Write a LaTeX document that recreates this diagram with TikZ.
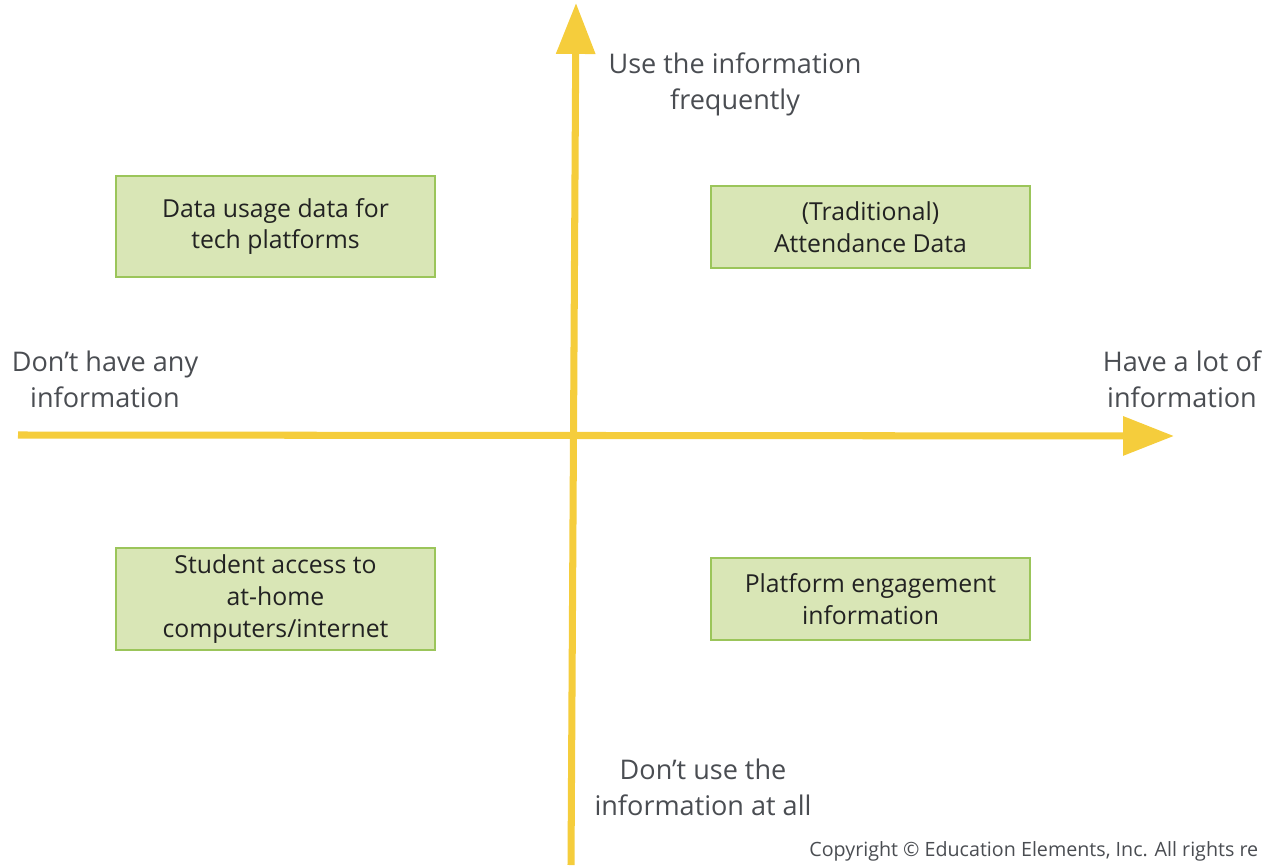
\documentclass[tikz,border=0pt]{standalone}
\usepackage{fontspec}
\setmainfont{Open Sans}
\usetikzlibrary{positioning,arrows.meta}
\definecolor{axisyellow}{HTML}{F5CD3C}
\definecolor{boxfill}{HTML}{D9E6B6}
\definecolor{boxline}{HTML}{9BC55A}
\definecolor{labelgrey}{HTML}{4A4D52}
\definecolor{boxtext}{HTML}{222222}

\tikzset{
  quadbox/.style={draw=boxline,fill=boxfill,line width=1.2pt,text=boxtext,
    font=\fontsize{14.1}{18}\selectfont,align=center,inner sep=0pt},
  axislabel/.style={text=labelgrey,font=\fontsize{15.4}{20.4}\selectfont,align=center},
  axisline/.style={axisyellow,line width=4pt,
    -{Triangle[length=29pt,width=21.5pt]}},
}

\begin{document}
\begin{tikzpicture}[x=0.02cm,y=-0.02cm]
    % page frame
    \useasboundingbox (0,0) rectangle (1270,865);

    % axis end points
    \coordinate (xstart) at (18,435);
    \coordinate (xend) at (1174,436);
    \coordinate (ystart) at (571,865);
    \coordinate (yend) at (576,3);

    % the two axes
    \draw[axisline] (xstart) -- (xend);
    \draw[axisline] (ystart) -- (yend);

    % axis captions
    \node[axislabel] (toplabel) at (735,84) {Use the information\\frequently};
    \node[axislabel] (bottomlabel) at (703,787) {Don’t use the\\information at all};
    \node[axislabel] (leftlabel) at (105,379) {Don’t have any\\information};
    \node[axislabel] (rightlabel) at (1182,379) {Have a lot of\\information};

    % quadrant boxes
    \node[quadbox,minimum width=319*0.02cm,minimum height=101*0.02cm] (usage) at (275.5,226.5)
      {Data usage data for\\tech platforms};
    \node[quadbox,minimum width=319*0.02cm,minimum height=82*0.02cm] (attendance) at (870.5,227)
      {(Traditional)\\Attendance Data};
    \node[quadbox,minimum width=319*0.02cm,minimum height=102*0.02cm] (access) at (275.5,599)
      {Student access to\\at-home\\computers/internet};
    \node[quadbox,minimum width=319*0.02cm,minimum height=82*0.02cm] (engagement) at (870.5,599)
      {Platform engagement\\information};

    % footer line, as far as it fits on the page
    \node[anchor=west,text=labelgrey,font=\fontsize{11.2}{13}\selectfont,inner sep=0pt] (copyright) at (809,851)
      {Copyright © Education Elements, Inc. All rights re};
\end{tikzpicture}
\end{document}
